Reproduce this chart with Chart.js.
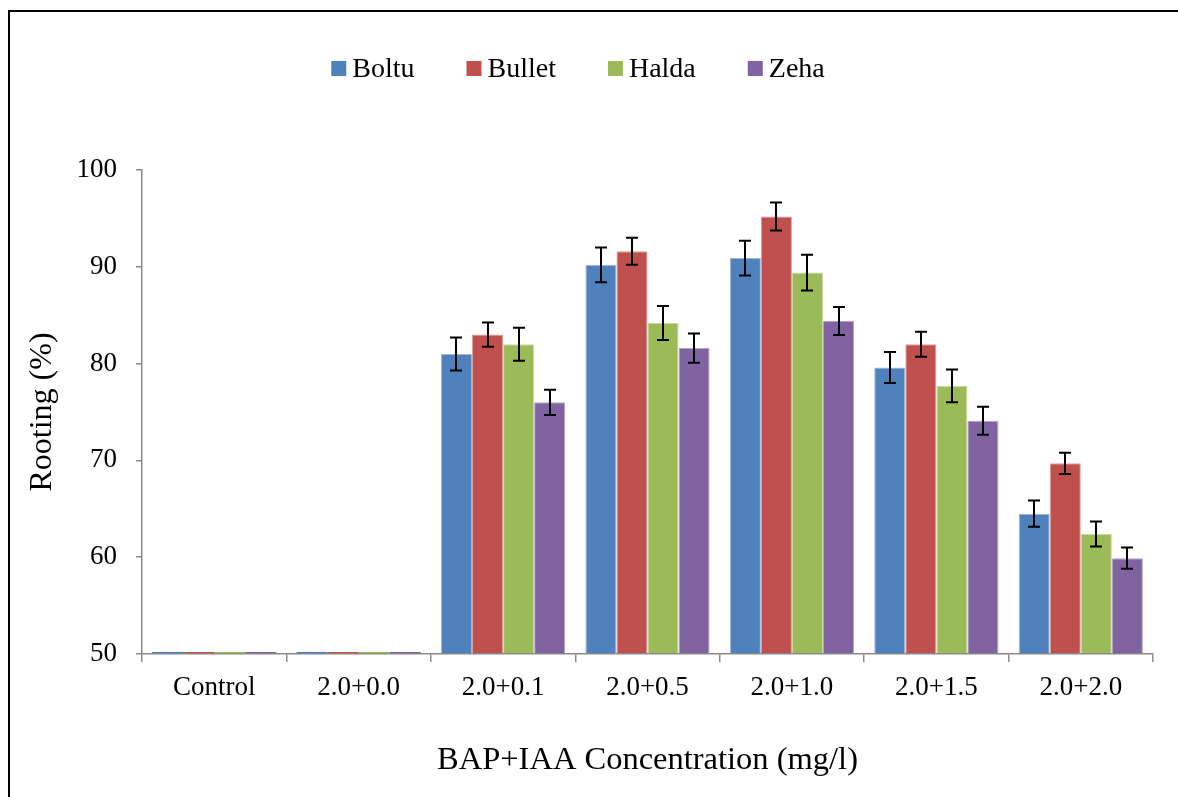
<!DOCTYPE html>
<html>
<head>
<meta charset="utf-8">
<script src="https://cdn.jsdelivr.net/npm/chart.js@4.4.1/dist/chart.umd.min.js"></script>
<style>
  body { margin: 0; background: #fff; overflow: hidden; }
  #frame { position: absolute; left: 8px; top: 10px; width: 1300px; height: 900px;
           border-left: 2px solid #000; border-top: 2px solid #000; }
  #rootChart { position: absolute; left: 0; top: 0; }
</style>
</head>
<body>
<div id="frame"></div>
<canvas id="rootChart" width="1178" height="797"></canvas>
<script>
const categories = ['Control', '2.0+0.0', '2.0+0.1', '2.0+0.5', '2.0+1.0', '2.0+1.5', '2.0+2.0'];
const seriesNames = ['Boltu', 'Bullet', 'Halda', 'Zeha'];

// rooting % (no rooting in the first two treatments)
const boltu  = [0, 0, 81.0, 90.2, 90.9, 79.6, 64.5];
const bullet = [0, 0, 83.0, 91.6, 95.2, 82.0, 69.7];
const halda  = [0, 0, 82.0, 84.2, 89.4, 77.7, 62.4];
const zeha   = [0, 0, 76.0, 81.6, 84.4, 74.1, 59.9];

// error bar half-lengths
const boltuErr  = [0, 0, 1.7, 1.8, 1.8, 1.6, 1.35];
const bulletErr = [0, 0, 1.25, 1.4, 1.45, 1.3, 1.1];
const haldaErr  = [0, 0, 1.7, 1.75, 1.85, 1.7, 1.3];
const zehaErr   = [0, 0, 1.3, 1.5, 1.45, 1.45, 1.1];

const yTicks = [50, 60, 70, 80, 90, 100];
const Y_MIN = 50, Y_MAX = 100;

const colors = ['#4F81BD', '#C0504D', '#9BBB59', '#8064A2'];
const edgeColors = ['#9db8da', '#dc9e9c', '#c6d9a3', '#b3a2c9'];
const FONT = '"Liberation Serif", "Times New Roman", serif';

const values = [boltu, bullet, halda, zeha];
const errors = [boltuErr, bulletErr, haldaErr, zehaErr];

const errorBars = {
    id: 'errorBars',
    afterDatasetsDraw(chart) {
        const ctx = chart.ctx;
        const y = chart.scales.y;
        ctx.save();
        ctx.strokeStyle = '#000';
        ctx.lineWidth = 2;
        chart.data.datasets.forEach((ds, i) => {
            chart.getDatasetMeta(i).data.forEach((bar, j) => {
                const err = ds.errors[j];
                if (!err) return;
                const top = y.getPixelForValue(ds.data[j] + err);
                const bot = y.getPixelForValue(ds.data[j] - err);
                const x = Math.round(bar.x);
                ctx.beginPath();
                ctx.moveTo(x, top); ctx.lineTo(x, bot);
                ctx.moveTo(x - 6, top); ctx.lineTo(x + 6, top);
                ctx.moveTo(x - 6, bot); ctx.lineTo(x + 6, bot);
                ctx.stroke();
            });
        });
        ctx.restore();
    }
};

const topLegend = {
    id: 'topLegend',
    afterDraw(chart) {
        const ctx = chart.ctx;
        ctx.save();
        ctx.font = '28px ' + FONT;
        ctx.textBaseline = 'alphabetic';
        const items = chart.data.datasets.map(ds => ({
            label: ds.label, color: ds.backgroundColor, w: ctx.measureText(ds.label).width
        }));
        const gap = 52, box = 15, textGap = 6;
        const total = items.reduce((s, it) => s + box + textGap + it.w, 0) + gap * (items.length - 1);
        let x = 578 - total / 2;
        items.forEach(it => {
            ctx.fillStyle = it.color;
            ctx.fillRect(x, 61, box, box);
            ctx.fillStyle = '#000';
            ctx.fillText(it.label, x + box + textGap, 77);
            x += box + textGap + it.w + gap;
        });
        ctx.restore();
    }
};

new Chart(document.getElementById('rootChart'), {
    type: 'bar',
    data: {
        labels: categories,
        datasets: seriesNames.map((name, i) => ({
            label: name,
            data: values[i].map(v => Math.max(v, Y_MIN)),
            errors: errors[i],
            base: Y_MIN,
            backgroundColor: colors[i],
            borderColor: edgeColors[i],
            borderWidth: c => (c.raw > Y_MIN ? 1 : 0),
            categoryPercentage: 0.86,
            barPercentage: 1.0,
            minBarLength: 2
        }))
    },
    options: {
        responsive: false,
        animation: false,
        layout: { padding: { top: 170, right: 25, bottom: 0, left: 0 } },
        plugins: {
            legend: { display: false },
            tooltip: { enabled: false }
        },
        scales: {
            x: {
                grid: { drawOnChartArea: false, offset: true, tickLength: 8, color: '#898989', lineWidth: 1.5 },
                border: { color: '#898989', width: 1.5 },
                ticks: { color: '#000', font: { family: FONT, size: 27 }, padding: 10, maxRotation: 0 },
                title: {
                    display: true,
                    text: 'BAP+IAA Concentration (mg/l)',
                    color: '#000',
                    font: { family: FONT, size: 32.5 },
                    padding: { top: 0, bottom: 17 }
                },
                afterFit(scale) { scale.height = 143; }
            },
            y: {
                min: Y_MIN,
                max: Y_MAX,
                afterBuildTicks(scale) { scale.ticks = yTicks.map(v => ({ value: v })); },
                grid: { drawOnChartArea: false, tickLength: 6, color: '#898989', lineWidth: 1.5 },
                border: { color: '#898989', width: 1.5 },
                ticks: { color: '#000', font: { family: FONT, size: 27 }, padding: 19 },
                title: {
                    display: true,
                    text: 'Rooting (%)',
                    color: '#000',
                    font: { family: FONT, size: 32 },
                    padding: { top: 23, bottom: 0 }
                },
                afterFit(scale) { scale.width = 142; }
            }
        }
    },
    plugins: [errorBars, topLegend]
});
</script>
</body>
</html>
